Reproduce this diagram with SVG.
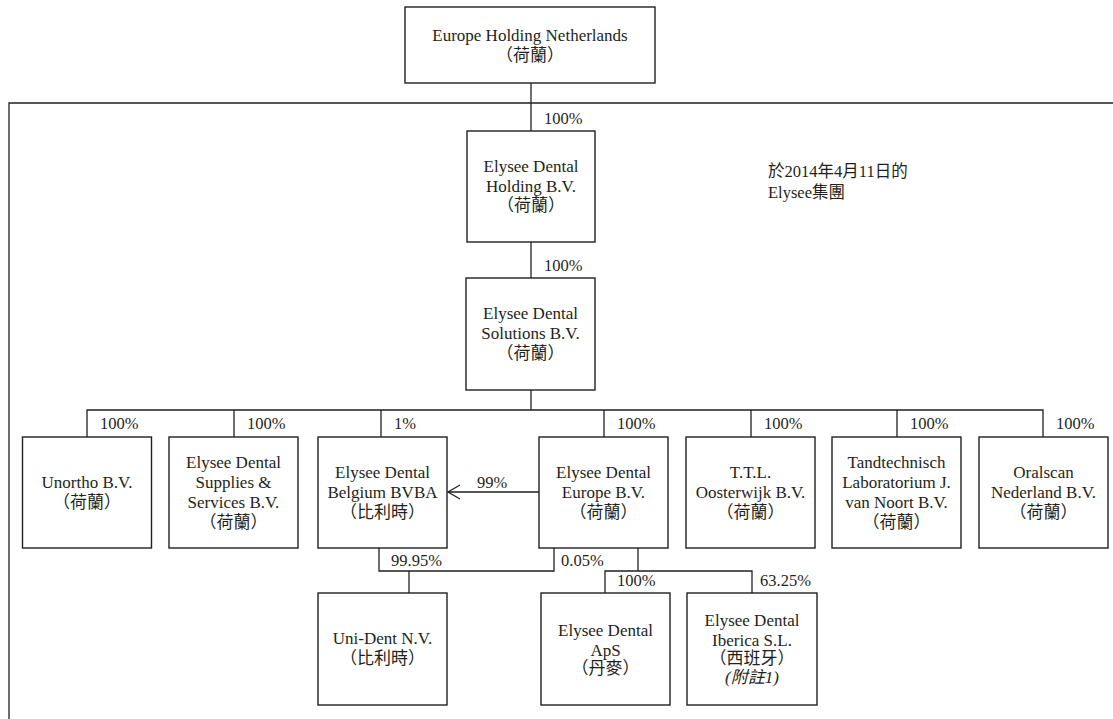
<svg xmlns="http://www.w3.org/2000/svg" width="1113" height="719" viewBox="0 0 1113 719">
<style>
  .box { fill: #ffffff; stroke: #231f20; stroke-width: 1.4; }
  .ln { fill: none; stroke: #231f20; stroke-width: 1.3; }
  text { font-family: "Liberation Serif", "Noto Sans CJK TC", serif; fill: #231f20; }
  .t { font-size: 17px; text-anchor: middle; }
  .p { font-size: 16.5px; }
  .i { font-style: italic; }
</style>
<defs>
  <marker id="arr" markerWidth="16" markerHeight="16" refX="13" refY="8" orient="auto" markerUnits="userSpaceOnUse">
    <path d="M1,1 L13,8 L1,15" fill="none" stroke="#231f20" stroke-width="1.3"/>
  </marker>
</defs>
<rect width="1113" height="719" fill="#ffffff"/>

<g id="frame">
  <path class="ln" d="M1113,103 H9 V719"/>
  <text class="p" x="768" y="177">於2014年4月11日的</text>
  <text class="p" x="768" y="198">Elysee集團</text>
</g>

<g id="connectors">
  <path class="ln" d="M531,83 V131"/>
  <path class="ln" d="M531,242 V278"/>
  <path class="ln" d="M531,390 V410"/>
  <path class="ln" d="M87,437 V410 H1043 V437"/>
  <path class="ln" d="M234,410 V437 M381,410 V437 M604,410 V437 M751,410 V437 M897,410 V437"/>
  <path class="ln" d="M539,492 H448" marker-end="url(#arr)"/>
  <path class="ln" d="M379,548 V571 H554 V548"/>
  <path class="ln" d="M409,571 V593"/>
  <path class="ln" d="M638,548 V571"/>
  <path class="ln" d="M605,593 V571 H752 V593"/>
  <text class="p" x="544" y="123.5">100%</text>
  <text class="p" x="544" y="271">100%</text>
  <text class="p" x="100" y="428.5">100%</text>
  <text class="p" x="247" y="428.5">100%</text>
  <text class="p" x="394" y="428.5">1%</text>
  <text class="p" x="617" y="428.5">100%</text>
  <text class="p" x="764" y="428.5">100%</text>
  <text class="p" x="910" y="428.5">100%</text>
  <text class="p" x="1056" y="428.5">100%</text>
  <text class="p" x="477" y="488">99%</text>
  <text class="p" x="391" y="565.5">99.95%</text>
  <text class="p" x="561" y="565.5">0.05%</text>
  <text class="p" x="617" y="586">100%</text>
  <text class="p" x="760" y="586">63.25%</text>
</g>

<g id="europe-holding-netherlands">
  <rect class="box" x="405" y="7" width="250" height="76"/>
  <text class="t" x="530" y="40.5">Europe Holding Netherlands</text>
  <text class="t" x="530" y="60.5">（荷蘭）</text>
</g>

<g id="elysee-dental-holding">
  <rect class="box" x="467" y="131" width="128" height="111"/>
  <text class="t" x="531" y="171.5">Elysee Dental</text>
  <text class="t" x="531" y="191.5">Holding B.V.</text>
  <text class="t" x="531" y="211">（荷蘭）</text>
</g>

<g id="elysee-dental-solutions">
  <rect class="box" x="466" y="278" width="129" height="112"/>
  <text class="t" x="530.5" y="318.5">Elysee Dental</text>
  <text class="t" x="530.5" y="338.5">Solutions B.V.</text>
  <text class="t" x="530.5" y="358.5">（荷蘭）</text>
</g>

<g id="unortho">
  <rect class="box" x="22.5" y="437" width="129" height="111"/>
  <text class="t" x="87" y="487.5">Unortho B.V.</text>
  <text class="t" x="87" y="507.5">（荷蘭）</text>
</g>

<g id="elysee-dental-supplies">
  <rect class="box" x="169" y="437" width="129" height="111"/>
  <text class="t" x="233.5" y="467.5">Elysee Dental</text>
  <text class="t" x="233.5" y="487.5">Supplies &amp;</text>
  <text class="t" x="233.5" y="508">Services B.V.</text>
  <text class="t" x="233.5" y="527.5">（荷蘭）</text>
</g>

<g id="elysee-dental-belgium">
  <rect class="box" x="318" y="437" width="129" height="111"/>
  <text class="t" x="382.5" y="477.5">Elysee Dental</text>
  <text class="t" x="382.5" y="497.5">Belgium BVBA</text>
  <text class="t" x="382.5" y="517.5">（比利時）</text>
</g>

<g id="elysee-dental-europe">
  <rect class="box" x="539" y="437" width="129" height="111"/>
  <text class="t" x="603.5" y="477.5">Elysee Dental</text>
  <text class="t" x="603.5" y="497.5">Europe B.V.</text>
  <text class="t" x="603.5" y="517.5">（荷蘭）</text>
</g>

<g id="ttl-oosterwijk">
  <rect class="box" x="686" y="437" width="129" height="111"/>
  <text class="t" x="750.5" y="477.5">T.T.L.</text>
  <text class="t" x="750.5" y="497.5">Oosterwijk B.V.</text>
  <text class="t" x="750.5" y="517.5">（荷蘭）</text>
</g>

<g id="tandtechnisch">
  <rect class="box" x="832" y="437" width="129" height="111"/>
  <text class="t" x="896.5" y="467.5">Tandtechnisch</text>
  <text class="t" x="896.5" y="487.5">Laboratorium J.</text>
  <text class="t" x="896.5" y="508">van Noort B.V.</text>
  <text class="t" x="896.5" y="527.5">（荷蘭）</text>
</g>

<g id="oralscan">
  <rect class="box" x="979" y="437" width="129" height="111"/>
  <text class="t" x="1043.5" y="477.5">Oralscan</text>
  <text class="t" x="1043.5" y="497.5">Nederland B.V.</text>
  <text class="t" x="1043.5" y="517.5">（荷蘭）</text>
</g>

<g id="uni-dent">
  <rect class="box" x="318" y="593" width="129" height="112"/>
  <text class="t" x="382.5" y="643.5">Uni-Dent N.V.</text>
  <text class="t" x="382.5" y="663.5">（比利時）</text>
</g>

<g id="elysee-dental-aps">
  <rect class="box" x="541" y="593" width="129" height="112"/>
  <text class="t" x="605.5" y="635.5">Elysee Dental</text>
  <text class="t" x="605.5" y="655.5">ApS</text>
  <text class="t" x="605.5" y="673.5">（丹麥）</text>
</g>

<g id="elysee-dental-iberica">
  <rect class="box" x="687" y="593" width="130" height="112"/>
  <text class="t" x="752" y="625.5">Elysee Dental</text>
  <text class="t" x="752" y="645.5">Iberica S.L.</text>
  <text class="t" x="752" y="663.5">（西班牙）</text>
  <text class="t i" x="752" y="682.5">(附註1)</text>
</g>
</svg>
